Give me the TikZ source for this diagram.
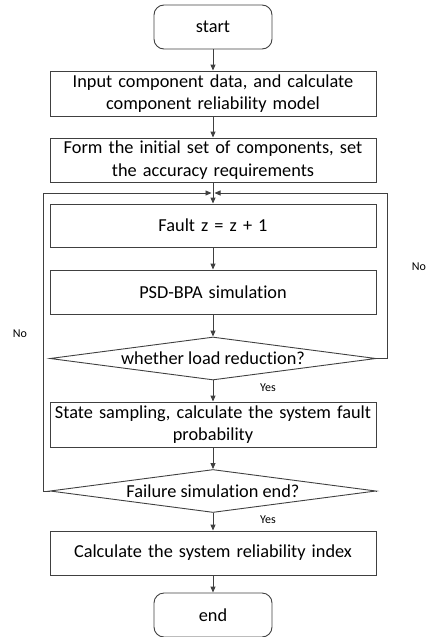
\documentclass[tikz,border=0pt]{standalone}
\usepackage{fontspec}
\setmainfont[Ligatures={NoCommon}]{Carlito}
\usetikzlibrary{shapes.geometric,arrows.meta}
\definecolor{ln}{HTML}{404040}
\begin{document}
\begin{tikzpicture}[x=1pt,y=-1pt,
  font=\fontsize{18.3}{22.6}\selectfont,
  procbox/.style={draw=ln,line width=0.9pt,rectangle,minimum width=326pt,text width=324pt,align=center,inner sep=0pt},
  termbox/.style={draw=ln,line width=0.9pt,rectangle,rounded corners=10pt,minimum width=118pt,minimum height=44pt,inner sep=0pt},
  decbox/.style={draw=ln,line width=0.9pt,diamond,minimum width=326pt,minimum height=43pt,inner sep=0pt},
  arr/.style={draw=ln,line width=0.9pt,-{Triangle[length=6pt,width=5pt]}},
  lnk/.style={draw=ln,line width=0.9pt},
  small/.style={font=\fontsize{12}{14}\selectfont}]
\useasboundingbox (0,0) rectangle (426,637);
\node[termbox] (start) at (213,27) {start};
\node[procbox,minimum height=45pt] (b1) at (213,93.5) {Input component data, and calculate\\component reliability model};
\node[procbox,minimum height=44pt] (b2) at (213,160) {Form the initial set of components, set\\the accuracy requirements};
\coordinate (merge) at (213,193);
\node[procbox,minimum height=43pt] (b3) at (213,225.5) {Fault z = z + 1};
\node[procbox,minimum height=44pt] (b4) at (213,292) {PSD-BPA simulation};
\node[decbox] (d1) at (213,358.5) {};
\node (t1) at (d1.center) {whether load reduction?};
\node[procbox,minimum height=45pt] (b5) at (213,424.5) {State sampling, calculate the system fault\\probability};
\node[decbox] (d2) at (213,491) {};
\node (t2) at (d2.center) {Failure simulation end?};
\node[procbox,minimum height=44pt] (b6) at (213,553) {Calculate the system reliability index};
\node[termbox] (end) at (213,615) {end};
\coordinate (rr) at (387,193);
\coordinate (ll) at (43,193);
\coordinate (stub) at (377,491);
\node[small] (no1) at (419,267) {No};
\node[small] (no2) at (20,334) {No};
\node[small] (y1) at (268,388) {Yes};
\node[small] (y2) at (268,520) {Yes};
\draw[arr] (start) -- (b1);
\draw[arr] (b1) -- (b2);
\draw[lnk] (b2.south) -- (merge);
\draw[arr] (merge) -- (b3.north);
\draw[arr] (b3) -- (b4);
\draw[arr] (b4) -- (d1);
\draw[arr] (d1) -- (b5);
\draw[arr] (b5) -- (d2);
\draw[arr] (d2) -- (b6);
\draw[arr] (b6) -- (end);
\draw[arr] (d1.east) -| (rr) -- ([xshift=1.5pt]merge);
\draw[arr] (d2.west) -| (ll) -- ([xshift=-1.5pt]merge);
\draw[lnk] (d2.east) -- (stub);
\end{tikzpicture}
\end{document}
